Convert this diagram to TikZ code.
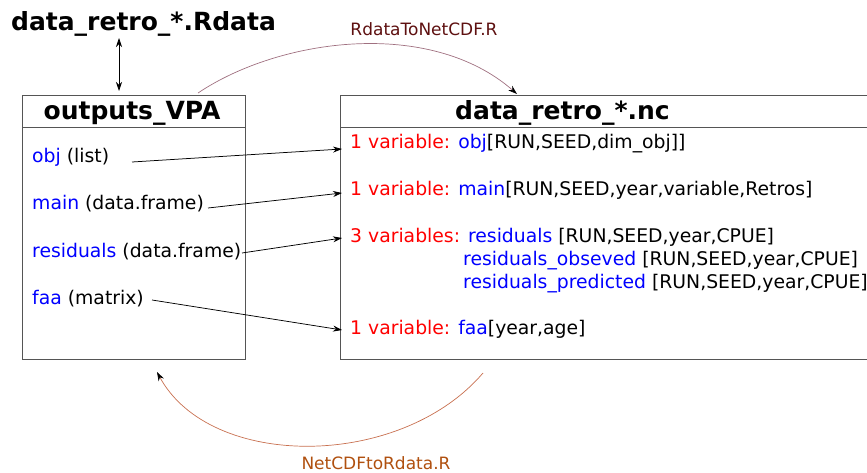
\documentclass[tikz,border=0pt]{standalone}
\usepackage{fontspec}
\setmainfont{DejaVu Sans}
\usetikzlibrary{arrows.meta}
\definecolor{boxgray}{HTML}{555555}
\definecolor{varred}{HTML}{FF0000}
\definecolor{varblue}{HTML}{0000FF}
\definecolor{toplab}{HTML}{5E1010}
\definecolor{topcurve}{HTML}{A07080}
\definecolor{botlab}{HTML}{B0500F}
\definecolor{botcurve}{HTML}{C87050}
\begin{document}
\begin{tikzpicture}[x=1pt,y=-1pt,
  title/.style={font=\fontsize{25}{29}\selectfont\bfseries, inner sep=0pt, anchor=base},
  body/.style={font=\fontsize{18.8}{22}\selectfont, inner sep=0pt, anchor=base west},
  lab/.style={font=\fontsize{17}{20}\selectfont, inner sep=0pt, anchor=base},
  frame/.style={draw=boxgray, line width=0.9pt},
  link/.style={-{Stealth[length=9pt,width=6pt]}, line width=0.75pt, black},
  script/.style={line width=0.7pt},
]
\useasboundingbox (0,0) rectangle (867,473);
% boxes
\node[frame, anchor=north west, minimum width=223pt, minimum height=264pt, inner sep=0pt] (vpa) at (22,95) {};
\node[frame, anchor=north west, minimum width=560pt, minimum height=264pt, inner sep=0pt] (nc) at (340,95) {};
\draw[frame] (22,127) -- (245,127);
\draw[frame] (340,127) -- (900,127);
% titles
\node[title] (rdata) at (143.5,31) {data\_retro\_*.Rdata};
\node[title] (vpatitle) at (132,120) {outputs\_VPA};
\node[title] (nctitle) at (562.5,120) {data\_retro\_*.nc};
% left items
\node[body] (iobj) at (32,163) {\textcolor{varblue}{obj} (list)};
\node[body] (imain) at (32,210) {\textcolor{varblue}{main} (data.frame)};
\node[body] (ires) at (32,257) {\textcolor{varblue}{residuals} (data.frame)};
\node[body] (ifaa) at (32,304) {\textcolor{varblue}{faa} (matrix)};
% right items
\node[body] (vobj) at (350,149) {\textcolor{varred}{1 variable:} \textcolor{varblue}{obj}[RUN,SEED,dim\_obj]]};
\node[body] (vmain) at (350,196) {\textcolor{varred}{1 variable:} \textcolor{varblue}{main}[RUN,SEED,year,variable,Retros]};
\node[body] (vres) at (350,242) {\textcolor{varred}{3 variables:} \textcolor{varblue}{residuals} [RUN,SEED,year,CPUE]};
\node[body] (vreso) at (463,265) {\textcolor{varblue}{residuals\_obseved} [RUN,SEED,year,CPUE]};
\node[body] (vresp) at (463,288) {\textcolor{varblue}{residuals\_predicted} [RUN,SEED,year,CPUE]};
\node[body] (vfaa) at (350,334) {\textcolor{varred}{1 variable:} \textcolor{varblue}{faa}[year,age]};
% connectors between items
\coordinate (objS) at (132,162);
\coordinate (objE) at (342,149);
\coordinate (mainS) at (208,208);
\coordinate (mainE) at (342,193);
\coordinate (resS) at (242,253);
\coordinate (resE) at (342,238);
\coordinate (faaS) at (152,300);
\coordinate (faaE) at (342,330);
\draw[link] (objS) -- (objE);
\draw[link] (mainS) -- (mainE);
\draw[link] (resS) -- (resE);
\draw[link] (faaS) -- (faaE);
% double arrow
\coordinate (dtop) at (119,38);
\coordinate (dbot) at (119,91);
\draw[{Stealth[length=9pt,width=6pt]}-{Stealth[length=9pt,width=6pt]}, line width=0.75pt] (dtop) -- (dbot);
% scripts
\coordinate (topS) at (198,93);
\coordinate (topE) at (517,94);
\draw[script, topcurve, -{Stealth[length=9pt,width=6pt,black]}] (topS) .. controls (280,38) and (430,18) .. (topE);
\node[lab, text=toplab] (toR) at (424,36) {RdataToNetCDF.R};
\coordinate (botS) at (483,373);
\coordinate (botE) at (157,372);
\draw[script, botcurve, -{Stealth[length=9pt,width=6pt,black]}] (botS) .. controls (400,470) and (210,470) .. (botE);
\node[lab, text=botlab] (toN) at (376,469) {NetCDFtoRdata.R};
\end{tikzpicture}
\end{document}
